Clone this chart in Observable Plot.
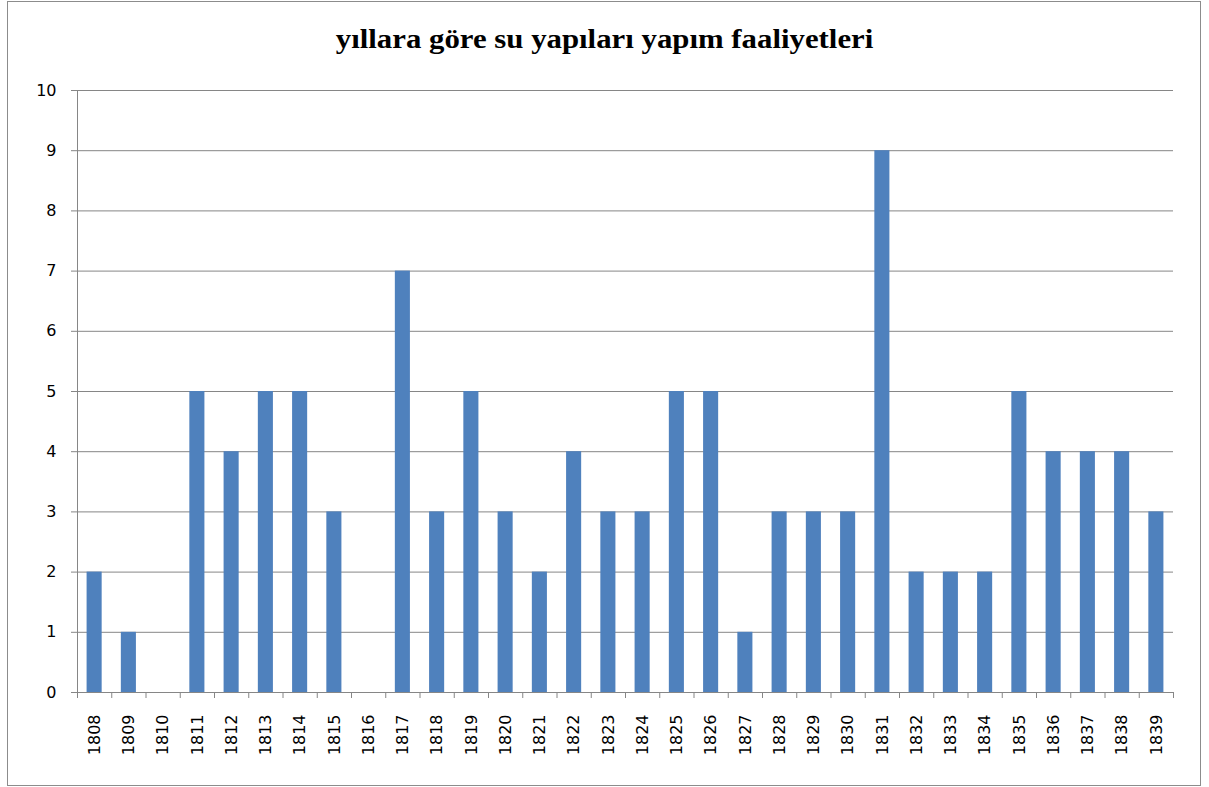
<!DOCTYPE html>
<html><head><meta charset="utf-8">
<script src="https://cdn.jsdelivr.net/npm/d3@7"></script>
<script src="https://cdn.jsdelivr.net/npm/@observablehq/plot@0.6"></script>
<style>
body{margin:0;background:#fff;}
#wrap{position:relative;width:1209px;height:787px;overflow:hidden;background:#fff;}
#border{position:absolute;left:7px;top:1px;width:1194px;height:785px;border:1px solid #8c8c8c;box-sizing:border-box;pointer-events:none;}
#title{position:absolute;left:0;top:23px;width:1209px;text-align:center;font-family:"Liberation Serif",serif;font-weight:bold;font-size:28px;line-height:32px;color:#000;transform:scaleX(1.1);transform-origin:604px 0;}
#chart{position:absolute;left:0;top:70px;}
</style>
</head><body>
<div id="wrap">
  <div id="border"></div>
  <div id="title">yıllara göre su yapıları yapım faaliyetleri</div>
  <div id="chart"></div>
</div>
<script>
const years = ["1808","1809","1810","1811","1812","1813","1814","1815","1816","1817","1818","1819","1820","1821","1822","1823","1824","1825","1826","1827","1828","1829","1830","1831","1832","1833","1834","1835","1836","1837","1838","1839"];
const counts = [2,1,0,5,4,5,5,3,0,7,3,5,3,2,4,3,3,5,5,1,3,3,3,9,2,2,2,5,4,4,4,3];
const yTicks = [0,1,2,3,4,5,6,7,8,9,10];

const data = years.map((y, i) => ({year: y, count: counts[i]}));
const W = 1209, ML = 77, MR = 36;
const step = (W - ML - MR) / years.length;
const axisGray = "#868686";

const chart = Plot.plot({
  width: W,
  height: 717,
  marginTop: 20,
  marginBottom: 95,
  marginLeft: ML,
  marginRight: MR,
  style: {fontFamily: "'DejaVu Sans', sans-serif", background: "transparent", color: "#000"},
  x: {type: "band", domain: years, paddingInner: 0.56, paddingOuter: 0.28, round: false, label: null},
  y: {domain: [0, 10], label: null},
  marks: [
    Plot.gridY({ticks: yTicks, stroke: axisGray, strokeOpacity: 1}),
    Plot.barY(data, {x: "year", y: "count", fill: "#4F81BD"}),
    Plot.ruleY([0], {stroke: axisGray}),
    Plot.ruleX([years[0]], {y1: 0, y2: 10, dx: -step / 2, stroke: axisGray}),
    Plot.axisY({ticks: yTicks, tickSize: 6, tickPadding: 15, stroke: axisGray, fill: "#000", fontSize: 16, label: null}),
    Plot.axisX({ticks: years, tickSize: 6, dx: -step / 2, stroke: axisGray, tickFormat: () => "", label: null}),
    Plot.axisX({ticks: [years[years.length - 1]], tickSize: 6, dx: step / 2, stroke: axisGray, tickFormat: () => "", label: null}),
    Plot.axisX({ticks: years, tickSize: 0, tickPadding: 22, tickRotate: -90, fill: "#000", fontSize: 16, label: null})
  ]
});
document.getElementById("chart").appendChild(chart);
</script>
</body></html>
